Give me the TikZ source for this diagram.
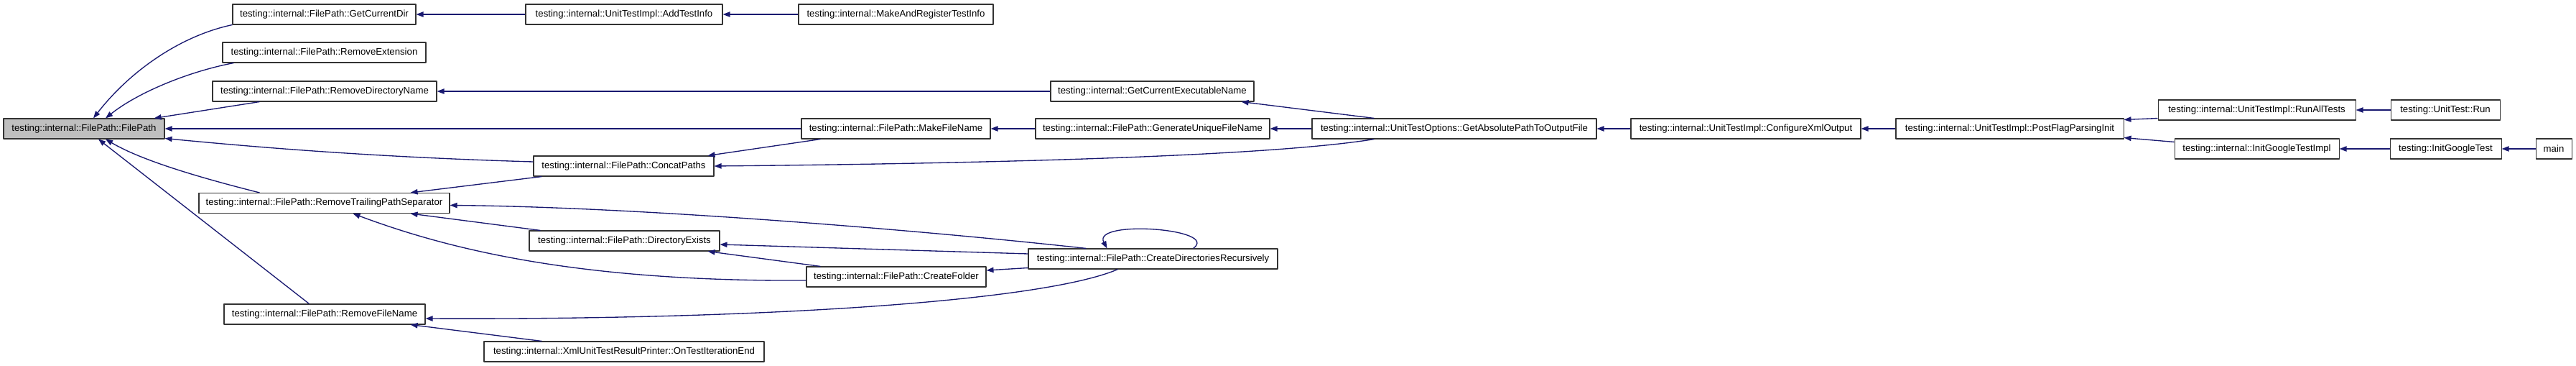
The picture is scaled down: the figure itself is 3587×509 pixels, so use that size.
\documentclass[tikz,border=0pt]{standalone}
\usepackage{fontspec}
\setmainfont{Liberation Sans}
\usetikzlibrary{arrows.meta,calc}
\definecolor{navy}{HTML}{191970}
\tikzset{
  func/.style={draw=black!80, line width=0.8pt, fill=white, minimum height=21pt, inner sep=0pt, font=\fontsize{9.9}{12}\selectfont},
  wd/.style={minimum width=#1*0.75pt},
  call/.style={draw=navy, line width=1pt, -{Triangle[length=7.5pt,width=5.5pt]}},
}
\begin{document}
\begin{tikzpicture}[x=0.75pt,y=-0.75pt, line join=round]
	\useasboundingbox (0,0) rectangle (3587,509);
	% functions
	\node[func,wd=224,fill=gray!50] (fp) at (117,179) {testing::internal::FilePath::FilePath};
	\node[func,wd=255] (gcd) at (451.5,20) {testing::internal::FilePath::GetCurrentDir};
	\node[func,wd=283] (rext) at (451.5,73) {testing::internal::FilePath::RemoveExtension};
	\node[func,wd=312] (rdn) at (452,127) {testing::internal::FilePath::RemoveDirectoryName};
	\node[func,wd=349] (rtps) at (451.5,282.5) {testing::internal::FilePath::RemoveTrailingPathSeparator};
	\node[func,wd=280] (rfn) at (452,437) {testing::internal::FilePath::RemoveFileName};
	\node[func,wd=274] (ati) at (869,20) {testing::internal::UnitTestImpl::AddTestInfo};
	\node[func,wd=251] (cp) at (868.5,231) {testing::internal::FilePath::ConcatPaths};
	\node[func,wd=265] (de) at (869.5,335) {testing::internal::FilePath::DirectoryExists};
	\node[func,wd=390] (otie) at (869,489) {testing::internal::XmlUnitTestResultPrinter::OnTestIterationEnd};
	\node[func,wd=271] (mrti) at (1247.5,20) {testing::internal::MakeAndRegisterTestInfo};
	\node[func,wd=263] (mfn) at (1247.5,179) {testing::internal::FilePath::MakeFileName};
	\node[func,wd=250] (cf) at (1248,385) {testing::internal::FilePath::CreateFolder};
	\node[func,wd=283] (gcen) at (1604.5,127) {testing::internal::GetCurrentExecutableName};
	\node[func,wd=326] (gufn) at (1605,179) {testing::internal::FilePath::GenerateUniqueFileName};
	\node[func,wd=347] (cdr) at (1605.5,360) {testing::internal::FilePath::CreateDirectoriesRecursively};
	\node[func,wd=396] (gapof) at (2025,179) {testing::internal::UnitTestOptions::GetAbsolutePathToOutputFile};
	\node[func,wd=320] (cxo) at (2431,179) {testing::internal::UnitTestImpl::ConfigureXmlOutput};
	\node[func,wd=317] (pfpi) at (2798.5,179) {testing::internal::UnitTestImpl::PostFlagParsingInit};
	\node[func,wd=275] (rat) at (3142.5,153) {testing::internal::UnitTestImpl::RunAllTests};
	\node[func,wd=229] (igti) at (3142.5,207) {testing::internal::InitGoogleTestImpl};
	\node[func,wd=152] (utr) at (3405,153) {testing::UnitTest::Run};
	\node[func,wd=155] (igt) at (3405.5,207) {testing::InitGoogleTest};
	\node[func,wd=50] (main) at (3556,207) {main};
	% calls into FilePath
	\draw[call] (gcd.south west) .. controls (250,50) and (180,100) .. ($(fp.north)+(13,0)$);
	\draw[call] ($(rext.south west)+(16,0)$) .. controls (260,100) and (190,130) .. ($(fp.north)+(30,0)$);
	\draw[call] ($(rdn.south west)+(66,0)$) -- ($(fp.north east)+(-15,0)$);
	\draw[call] (mfn.west) -- (fp.east);
	\draw[call] ($(cp.west)+(0,-6)$) .. controls (500,218) and (330,202) .. ($(fp.south east)+(0,-1)$);
	\draw[call] ($(rtps.north west)+(85,0)$) .. controls (290,250) and (200,225) .. ($(fp.south)+(30,0)$);
	\draw[call] ($(rfn.north west)+(119,0)$) -- ($(fp.south)+(20,0)$);
	% upper chains
	\draw[call] (ati) -- (gcd);
	\draw[call] (mrti) -- (ati);
	\draw[call] (gcen) -- (rdn);
	\draw[call] ($(gapof.north west)+(87,0)$) -- ($(gcen.south east)+(-18,0)$);
	\draw[call] (gufn) -- (mfn);
	\draw[call] (gapof) -- (gufn);
	\draw[call] ($(gapof.south west)+(87,0)$) .. controls (1750,220) and (1300,228) .. (cp.east);
	\draw[call] ($(mfn.south west)+(27,0)$) -- ($(cp.north east)+(-9,0)$);
	\draw[call] (cxo) -- (gapof);
	\draw[call] (pfpi) -- (cxo);
	\draw[call] ($(rat.south west)+(0,-3)$) -- ($(pfpi.north east)+(0,2)$);
	\draw[call] ($(igti.north west)+(0,5)$) -- ($(pfpi.south east)+(0,-2)$);
	\draw[call] (utr) -- (rat);
	\draw[call] (igt) -- (igti);
	\draw[call] (main) -- (igt);
	% lower part
	\draw[call] ($(cp.south west)+(12,0)$) -- ($(rtps.north east)+(-55,0)$);
	\draw[call] ($(cdr.north west)+(81,0)$) .. controls (1300,322) and (900,288) .. ($(rtps.east)+(0,3)$);
	\draw[call] ($(de.north west)+(16,0)$) -- ($(rtps.south east)+(-55,0)$);
	\draw[call] ($(cf.west)+(0,5)$) .. controls (800,392) and (620,345) .. ($(rtps.south)+(40,0)$);
	\draw[call] ($(cdr.west)+(0,-7)$) -- ($(de.east)+(0,5)$);
	\draw[call] ($(cf.north west)+(20,0)$) -- ($(de.south east)+(-17,0)$);
	\draw[call] ($(cdr.south west)+(0,-2)$) -- ($(cf.east)+(0,-9)$);
	\draw[call] ($(cdr.south west)+(125,0)$) .. controls (1450,420) and (1050,445) .. ($(rfn.east)+(0,6)$);
	\draw[call] ($(otie.north west)+(81,0)$) -- ($(rfn.south east)+(-21,0)$);
	\draw[call] ($(cdr.north)+(56,0)$) .. controls (1700,318) and (1520,305) .. ($(cdr.north)+(-64,0)$);
\end{tikzpicture}
\end{document}
